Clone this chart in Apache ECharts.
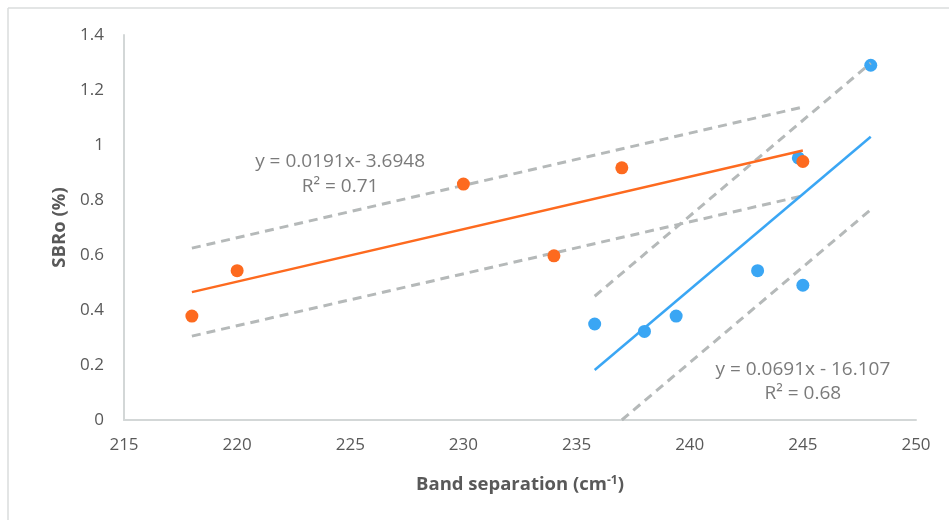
<!DOCTYPE html>
<html>
<head>
<meta charset="utf-8">
<script src="https://cdn.jsdelivr.net/npm/echarts@6/dist/echarts.min.js"></script>
<style>
  html, body { margin: 0; padding: 0; background: #fff; }
  #chart { width: 949px; height: 520px; }
</style>
</head>
<body>
<div id="chart"></div>
<script>
// tick values
var xTicks = [215, 220, 225, 230, 235, 240, 245, 250];
var yTicks = [0, 0.2, 0.4, 0.6, 0.8, 1, 1.2, 1.4];

// measured points [band separation, SBRo]
var orangePoints = [[218, 0.378], [220, 0.543], [230, 0.858], [234, 0.597], [237, 0.917], [245, 0.94]];
var bluePoints = [[235.8, 0.349], [238, 0.322], [239.4, 0.378], [243, 0.543], [245, 0.49], [244.8, 0.953], [248, 1.29]];

// fitted lines, end points
var orangeTrend = [[218, 0.465], [245, 0.98]];
var blueTrend = [[235.8, 0.182], [248, 1.03]];

// dashed bounds
var orangeUpper = [[218, 0.625], [245, 1.138]];
var orangeLower = [[218, 0.305], [245, 0.815]];
var blueUpper = [[235.8, 0.45], [248, 1.298]];
var blueLower = [[237, 0], [248, 0.765]];

// equation labels [x, y, text]
var equationLabels = [
  [224.55, 0.938, 'y = 0.0191x- 3.6948'],
  [224.55, 0.85, 'R² = 0.71'],
  [245, 0.185, 'y = 0.0691x - 16.107'],
  [245, 0.095, 'R² = 0.68']
];

var ORANGE = '#fd6a1f';
var BLUE = '#3aa6f4';
var DASH = '#b5b9b9';
var TEXT = '#595959';
var FONT = '"Open Sans", "DejaVu Sans", sans-serif';

function dashed(data) {
  return {
    type: 'line', data: data, showSymbol: false, silent: true,
    lineStyle: { color: DASH, width: 3, type: [9, 6] }, z: 3
  };
}

var chart = echarts.init(document.getElementById('chart'), null, { renderer: 'canvas' });

var option = {
  animation: false,
  backgroundColor: '#fff',
  textStyle: { fontFamily: FONT },
  graphic: [
    { type: 'line', shape: { x1: 8, y1: 8, x2: 949, y2: 8 }, style: { stroke: '#dadddd', lineWidth: 1.5 } },
    { type: 'line', shape: { x1: 8, y1: 8, x2: 8, y2: 520 }, style: { stroke: '#dadddd', lineWidth: 1.5 } }
  ],
  grid: { left: 124, right: 33, top: 35, bottom: 100 },
  xAxis: {
    type: 'value', min: 215, max: 250, interval: 5,
    axisLine: { show: true, lineStyle: { color: '#d3d7d7', width: 2 } },
    axisTick: { show: false },
    splitLine: { show: false },
    axisLabel: { color: TEXT, fontSize: 17, margin: 17, fontFamily: FONT,
      formatter: function (v) { return xTicks.indexOf(v) >= 0 ? String(v) : ''; } },
    name: '{a|Band separation (cm}{s|-1}{a|)}',
    nameLocation: 'middle', nameGap: 55,
    nameTextStyle: {
      rich: {
        a: { fontSize: 18.5, fontWeight: 'bold', color: TEXT, fontFamily: FONT },
        s: { fontSize: 12, fontWeight: 'bold', color: TEXT, fontFamily: FONT, verticalAlign: 'top', padding: [0, 0, 8, 0] }
      }
    }
  },
  yAxis: {
    type: 'value', min: 0, max: 1.4, interval: 0.2,
    axisLine: { show: true, lineStyle: { color: '#d3d7d7', width: 2 } },
    axisTick: { show: false },
    splitLine: { show: false },
    axisLabel: { color: TEXT, fontSize: 17, margin: 20, fontFamily: FONT,
      formatter: function (v) {
        var r = Math.round(v * 10) / 10;
        return yTicks.indexOf(r) >= 0 ? String(r) : '';
      } },
    name: 'SBRo (%)',
    nameLocation: 'middle', nameGap: 55,
    nameTextStyle: { fontSize: 18.5, fontWeight: 'bold', color: TEXT, fontFamily: FONT }
  },
  series: [
    {
      type: 'scatter', data: bluePoints, symbolSize: 13,
      itemStyle: { color: BLUE, opacity: 1 }, z: 2
    },
    dashed(orangeUpper),
    dashed(orangeLower),
    dashed(blueUpper),
    dashed(blueLower),
    {
      type: 'line', data: blueTrend, showSymbol: false,
      lineStyle: { color: BLUE, width: 2.5 }, z: 4
    },
    {
      type: 'line', data: orangeTrend, showSymbol: false,
      lineStyle: { color: ORANGE, width: 2.5 }, z: 4
    },
    {
      type: 'scatter', data: orangePoints, symbolSize: 13,
      itemStyle: { color: ORANGE, opacity: 1 }, z: 5
    },
    {
      type: 'scatter', symbolSize: 0, silent: true, z: 6,
      data: equationLabels.map(function (d) { return { value: [d[0], d[1]], name: d[2] }; }),
      label: {
        show: true, position: 'inside', formatter: '{b}',
        color: TEXT, fontSize: 19, fontFamily: FONT
      }
    }
  ]
};

chart.setOption(option);
</script>
</body>
</html>
